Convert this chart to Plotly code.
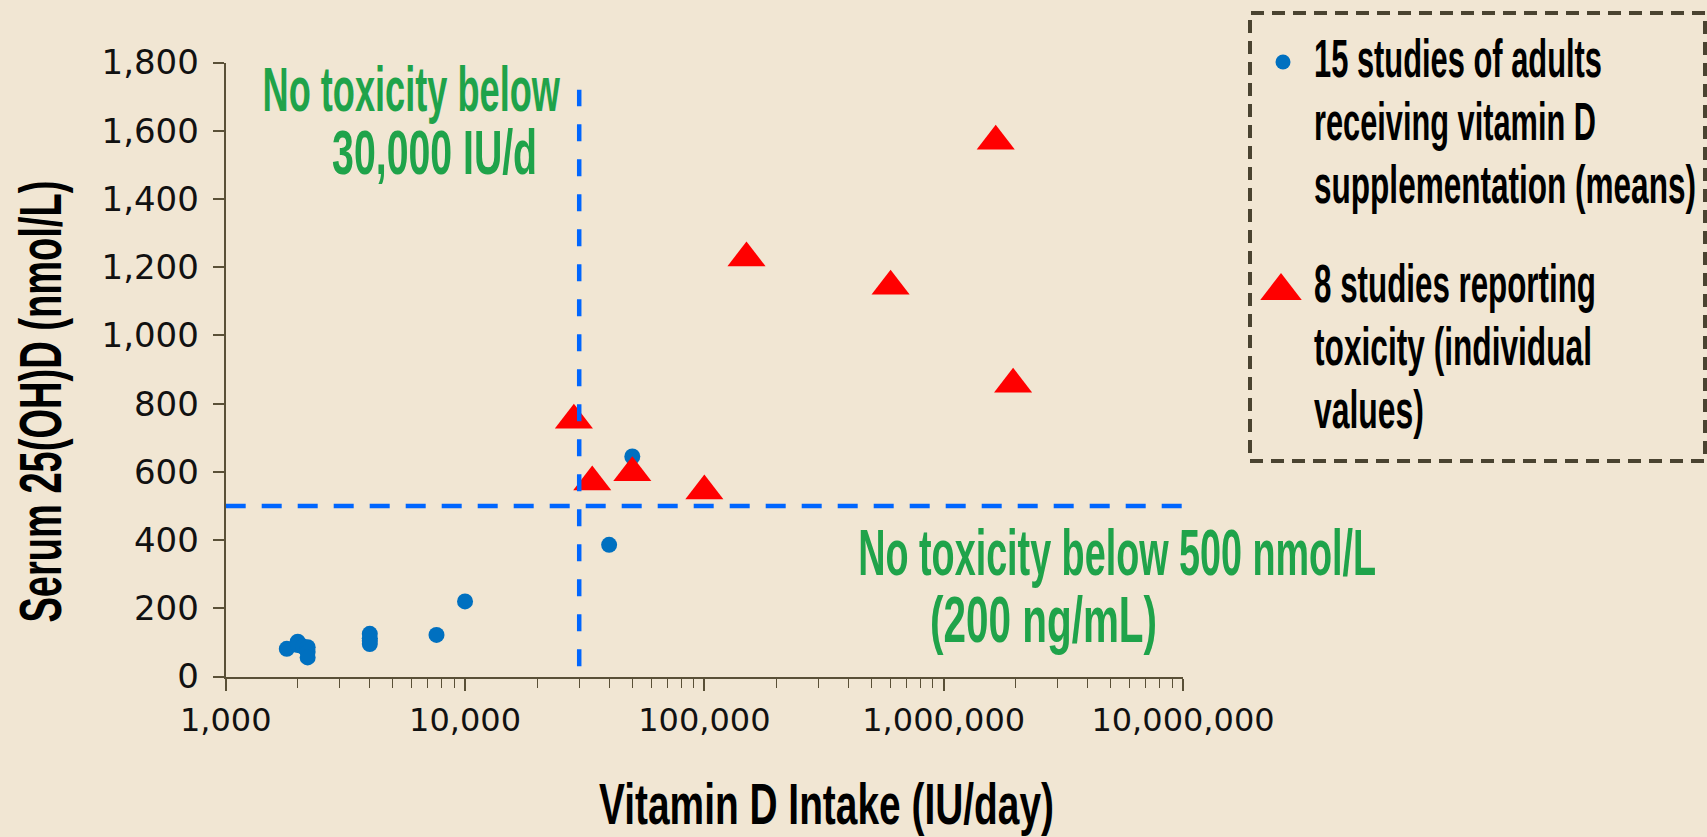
import json
import plotly.graph_objects as go

# ---------------- data ----------------
blue_intake = [1800, 2000, 2000, 2100, 2200, 2200, 2200, 4000, 4000, 4000, 4000, 7600, 10000, 40000, 50000]
blue_serum = [81, 102, 92, 88, 86, 72, 56, 125, 112, 104, 95, 122, 220, 386, 645]

red_intake = [28500, 34000, 50000, 100000, 150000, 600000, 1650000, 1950000]
red_serum = [751, 570, 597, 544, 1227, 1144, 1569, 857]

vline_intake = [30000, 30000]
vline_serum = [30, 1720]
hline_intake = [1000, 10000000]
hline_serum = [500, 500]

x_tickvals = [1000, 10000, 100000, 1000000, 10000000]
x_ticktext = ["1,000", "10,000", "100,000", "1,000,000", "10,000,000"]
x_minor = [k * 10 ** e for e in range(3, 7) for k in range(2, 10)]

blue_name = "15 studies of adults receiving vitamin D supplementation (means)"
red_name = "8 studies reporting toxicity (individual values)"
legend_lines_blue = ["15 studies of adults", "receiving vitamin D", "supplementation (means)"]
legend_lines_red = ["8 studies reporting", "toxicity (individual", "values)"]

# ---------------- styling ----------------
W, H = 1707, 837
BG = "#F1E6D3"
AXIS = "#5A5037"
BLUE = "#0070C0"
RED = "#FF0000"
DASHBLUE = "#0066FF"
GREEN = "#1FA34A"
COND = "Liberation Sans, Arial, sans-serif"
TICKF = "DejaVu Sans, Verdana, sans-serif"


def fx(px):
    return px / W


def fy(py):
    return 1 - py / H


fig = go.Figure()

fig.add_trace(go.Scatter(x=blue_intake, y=blue_serum, mode="markers", name=blue_name,
                         marker=dict(color=BLUE, size=16, line=dict(width=0)),
                         cliponaxis=False, showlegend=False))
fig.add_trace(go.Scatter(x=red_intake, y=red_serum, mode="markers", name=red_name,
                         marker=dict(color=RED, size=33, symbol="triangle-up", line=dict(width=0)),
                         cliponaxis=False, showlegend=False))
fig.add_trace(go.Scatter(x=vline_intake, y=vline_serum, mode="lines",
                         line=dict(color=DASHBLUE, width=4.5, dash="17px,18px"),
                         cliponaxis=False, showlegend=False, hoverinfo="skip"))
fig.add_trace(go.Scatter(x=hline_intake, y=hline_serum, mode="lines",
                         line=dict(color=DASHBLUE, width=4.5, dash="20px,16px"),
                         cliponaxis=False, showlegend=False, hoverinfo="skip"))

# legend symbols drawn on a hidden full-page pixel subplot
fig.add_trace(go.Scatter(x=[1283], y=[62], mode="markers", xaxis="x2", yaxis="y2",
                         marker=dict(color=BLUE, size=15), showlegend=False, hoverinfo="skip"))
fig.add_trace(go.Scatter(x=[1281], y=[291], mode="markers", xaxis="x2", yaxis="y2",
                         marker=dict(color=RED, size=36, symbol="triangle-up"),
                         showlegend=False, hoverinfo="skip"))

x0px, x1px = 225.7, 1183.0
ybot, ytop = 676.5, 62.5

fig.update_layout(
    width=W, height=H,
    margin=dict(l=0, r=0, t=0, b=0),
    paper_bgcolor=BG, plot_bgcolor="rgba(0,0,0,0)",
    showlegend=False,
    xaxis=dict(type="log", range=[3, 7], domain=[fx(x0px), fx(x1px)], anchor="y",
               tickvals=x_tickvals, ticktext=x_ticktext,
               ticks="outside", ticklen=12, tickwidth=1.5, tickcolor=AXIS,
               showline=True, linecolor=AXIS, linewidth=2,
               showgrid=False, zeroline=False, automargin=False,
               tickfont=dict(family=TICKF, size=32, color="#111111"),
               ticklabelstandoff=2,
               minor=dict(tickvals=x_minor, ticks="outside", ticklen=9, tickwidth=1.3,
                          tickcolor=AXIS, showgrid=False)),
    yaxis=dict(range=[0, 1800], dtick=200, tickformat=",", domain=[fy(ybot), fy(ytop)], anchor="x",
               ticks="outside", ticklen=11, tickwidth=1.5, tickcolor=AXIS,
               showline=True, linecolor=AXIS, linewidth=2,
               showgrid=False, zeroline=False, automargin=False,
               tickfont=dict(family=TICKF, size=34, color="#111111"),
               ticklabelstandoff=7),
    xaxis2=dict(domain=[0, 1], range=[0, W], anchor="y2", visible=False, fixedrange=True),
    yaxis2=dict(domain=[0, 1], range=[H, 0], anchor="x2", visible=False, fixedrange=True),
)

ann = []
fit_width = []   # target rendered width (px) of each annotation's text
fit_anchor = []  # which point stays fixed when narrowing


def txt(text, x, y, size, width, color="#000000", xanchor="center", angle=0):
    ann.append(dict(text=text, x=fx(x), y=fy(y), xref="paper", yref="paper",
                    xanchor=xanchor, yanchor="middle", showarrow=False, textangle=angle,
                    font=dict(family=COND, size=size, color=color, weight="bold")))
    fit_width.append(width)
    fit_anchor.append(xanchor)


# axis titles
txt("Serum 25(OH)D (nmol/L)", 40, 402, 60, 442, angle=-90)
txt("Vitamin D Intake (IU/day)", 826, 803, 58, 455)

# green notes
txt("No toxicity below", 411, 89, 63, 298, GREEN)
txt("30,000 IU/d", 434, 151.5, 63, 205, GREEN)
txt("No toxicity below 500 nmol/L", 1117, 552.5, 64, 518, GREEN)
txt("(200 ng/mL)", 1043, 620, 64, 227, GREEN)

# legend text
blue_y = [59, 121, 184]
blue_w = [288, 282, 382]
red_y = [283, 346, 409]
red_w = [282, 278, 110]
for line, yy, ww in zip(legend_lines_blue, blue_y, blue_w):
    txt(line, 1312, yy, 53, ww, xanchor="left")
for line, yy, ww in zip(legend_lines_red, red_y, red_w):
    txt(line, 1312, yy, 53, ww, xanchor="left")

fig.update_layout(annotations=ann)

# legend frame
fig.add_shape(type="rect", xref="paper", yref="paper",
              x0=fx(1250), x1=fx(1705), y0=fy(461), y1=fy(13),
              line=dict(color="#4A4330", width=4, dash="13px,8px"))

post = """
document.body.style.margin = '0';
document.body.style.overflow = 'hidden';
var gd = document.getElementById('{plot_id}');
var FW = %s;
var FA = %s;
gd.querySelectorAll('g.annotation').forEach(function(g){
  var i = +g.getAttribute('data-index');
  var t = g.querySelector('text.annotation-text');
  if (!t || !FW[i]) return;
  var bb = t.getBBox();
  if (!bb.width) return;
  var s = FW[i] / bb.width;
  var ox = (FA[i] === 'left') ? bb.x : bb.x + bb.width / 2;
  var old = t.getAttribute('transform') || '';
  t.setAttribute('transform', old + ' translate(' + ox + ',0) scale(' + s + ',1) translate(' + (-ox) + ',0)');
});
""" % (json.dumps(fit_width), json.dumps(fit_anchor))

fig.write_html("out.html", post_script=post, config={"displayModeBar": False})
